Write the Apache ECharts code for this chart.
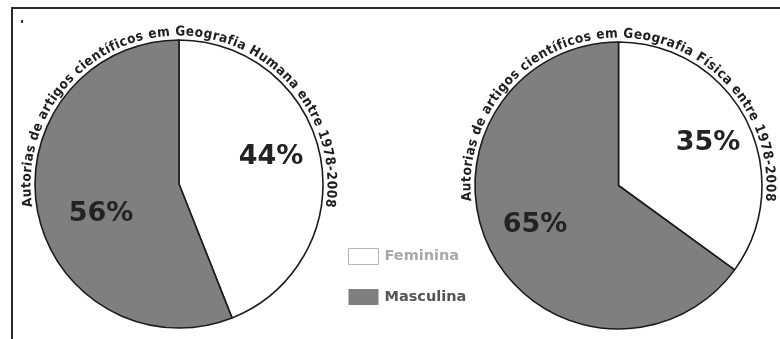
<!DOCTYPE html>
<html>
<head>
<meta charset="utf-8">
<script src="https://cdn.jsdelivr.net/npm/echarts@6/dist/echarts.min.js"></script>
<style>
html,body{margin:0;padding:0;background:#fff;}
#chart{width:780px;height:339px;}
</style>
</head>
<body>
<div id="chart"></div>
<script>
// ---- data ----
const categories = ['Feminina', 'Masculina'];
const humanaValues = [44, 56];
const fisicaValues = [35, 65];
const chartTitles = [
  'Autorias de artigos científicos em Geografia Humana entre 1978-2008',
  'Autorias de artigos científicos em Geografia Física entre 1978-2008'
];

// ---- layout / style ----
const sliceColors = ['#ffffff', '#7e7f81'];
const pies = [
  {cx: 179, cy: 184, r: 144, a0: -98.8, a1: 98.8},
  {cx: 618.5, cy: 185.5, r: 143.5, a0: -96, a1: 96}
];
const labelPos = [
  [[271, 157], [101, 214]],
  [[708, 143], [535, 225]]
];
const FONT = '"DejaVu Sans", Verdana, sans-serif';
const TITLE_FONT = 'bold 13.5px "DejaVu Sans Condensed", "DejaVu Sans", sans-serif';

const chart = echarts.init(document.getElementById('chart'), null, {renderer: 'canvas'});

// measure characters for curved titles
const mctx = document.createElement('canvas').getContext('2d');
mctx.font = TITLE_FONT;

function arcText(text, p) {
  const R = p.r + 8;
  const chars = Array.from(text);
  const widths = chars.map(c => mctx.measureText(c).width);
  const W = widths.reduce((a, b) => a + b, 0);
  const L = R * (p.a1 - p.a0) * Math.PI / 180;
  const extra = (L - W) / (chars.length - 1);
  const els = [];
  let s = 0;
  chars.forEach((c, i) => {
    const mid = s + widths[i] / 2;
    const th = (p.a0 * Math.PI / 180) + mid / R;
    s += widths[i] + extra;
    if (c === ' ') return;
    els.push({
      type: 'text',
      x: p.cx + R * Math.sin(th),
      y: p.cy - R * Math.cos(th),
      rotation: -th,
      silent: true,
      style: {text: c, font: TITLE_FONT, fill: '#1e1e1e', align: 'center', verticalAlign: 'middle'}
    });
  });
  return els;
}

const valueSets = [humanaValues, fisicaValues];

const series = pies.map((p, si) => ({
  type: 'pie',
  center: [p.cx, p.cy],
  radius: p.r,
  startAngle: 90,
  clockwise: true,
  silent: true,
  animation: false,
  avoidLabelOverlap: false,
  data: categories.map((n, i) => ({name: n, value: valueSets[si][i], itemStyle: {color: sliceColors[i]}})),
  itemStyle: {borderColor: '#1c1c1c', borderWidth: 1.6},
  label: {
    show: true,
    position: 'inside',
    formatter: '{c}%',
    fontSize: 27,
    fontWeight: 'bold',
    fontFamily: FONT,
    color: '#232323'
  },
  labelLine: {show: false},
  labelLayout: function (params) {
    const pos = labelPos[si][params.dataIndex];
    return {x: pos[0], y: pos[1], align: 'center', verticalAlign: 'middle'};
  },
  emphasis: {disabled: true}
}));

const graphics = [
  {type: 'polyline', silent: true, shape: {points: [[12, 339], [12, 8], [780, 8]]},
   style: {stroke: '#2a2a2a', lineWidth: 2, fill: null}},
  {type: 'rect', silent: true, shape: {x: 21, y: 20, width: 2, height: 3}, style: {fill: '#333'}}
].concat(arcText(chartTitles[0], pies[0]), arcText(chartTitles[1], pies[1]));

chart.setOption({
  animation: false,
  backgroundColor: '#ffffff',
  legend: {
    orient: 'vertical',
    left: 343,
    top: 243,
    itemWidth: 30,
    itemHeight: 16,
    itemGap: 24,
    icon: 'rect',
    selectedMode: false,
    textStyle: {fontFamily: FONT, fontWeight: 'bold', fontSize: 14.5, padding: [0, 0, 0, 1]},
    data: [
      {name: categories[0], itemStyle: {color: '#ffffff', borderColor: '#b5b5b5', borderWidth: 1}, textStyle: {color: '#a9a9a9'}},
      {name: categories[1], itemStyle: {color: sliceColors[1], borderWidth: 0}, textStyle: {color: '#555555'}}
    ]
  },
  series: series,
  graphic: graphics
});
</script>
</body>
</html>
